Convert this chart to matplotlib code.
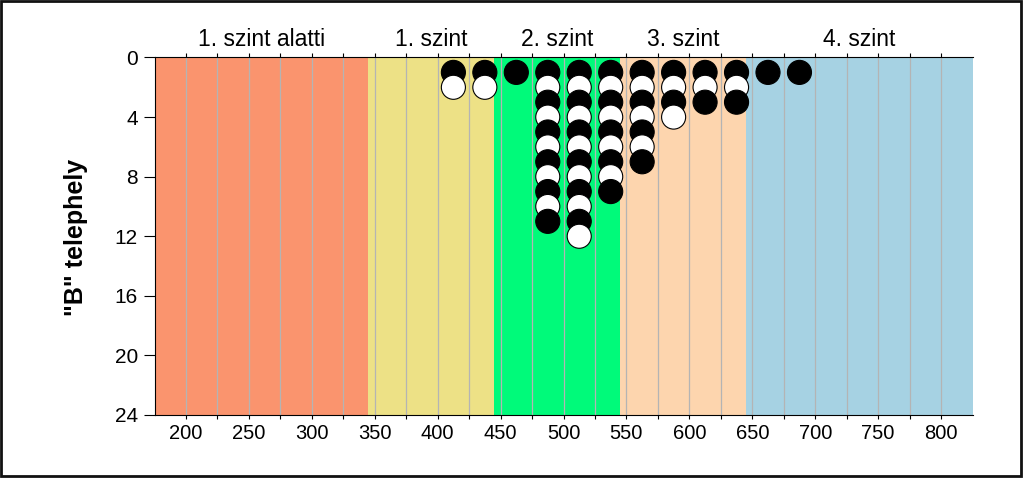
import matplotlib
matplotlib.use("Agg")
import matplotlib.pyplot as plt
from matplotlib.patches import Rectangle

plt.rcParams['font.family'] = ['Liberation Sans', 'DejaVu Sans']

# ---- data ----
band_edges = [175, 345, 445, 545, 645, 825]
band_labels = ["1. szint alatti", "1. szint", "2. szint", "3. szint", "4. szint"]
band_colors = ["#FA946E", "#EDE186", "#00FA7A", "#FDD5AE", "#A6D2E3"]

column_x = [412.5, 437.5, 462.5, 487.5, 512.5, 537.5, 562.5, 587.5, 612.5, 637.5, 662.5, 687.5]
column_pattern = ["BW", "BW", "B", "BWBWBWBWBWB", "BWBWBWBWBWBW", "BWBWBWBWB",
                  "BWBWBWB", "BWBW", "BWB", "BWB", "B", "B"]

x_ticks = [200, 250, 300, 350, 400, 450, 500, 550, 600, 650, 700, 750, 800]
x_minor = [225, 275, 325, 375, 425, 475, 525, 575, 625, 675, 725, 775]
y_ticks = [0, 4, 8, 12, 16, 20, 24]
y_label = '"B" telephely'

# ---- figure ----
fig = plt.figure(figsize=(10.24, 4.78), dpi=100)
ax = fig.add_axes([154.5 / 1024, 1 - 415 / 478, 818 / 1024, (415 - 57.5) / 478])

for i in range(len(band_labels)):
    ax.axvspan(band_edges[i], band_edges[i + 1], color=band_colors[i], lw=0, zorder=0)
    ax.annotate(band_labels[i], xy=((band_edges[i] + band_edges[i + 1]) / 2, 1),
                xycoords=('data', 'axes fraction'), xytext=(0, 8), textcoords='offset points',
                ha='center', va='baseline', fontsize=16.5)

for g in sorted(x_ticks + x_minor):
    ax.axvline(g, color='#B4B4B4', lw=0.9, zorder=1)

xs, ys, fcs = [], [], []
for cx, pat in zip(column_x, column_pattern):
    for r, c in enumerate(pat, start=1):
        xs.append(cx)
        ys.append(r)
        fcs.append('black' if c == 'B' else 'white')
ax.scatter(xs, ys, s=300, c=fcs, edgecolors='black', linewidths=0.8, zorder=3, clip_on=False)

ax.set_xlim(175, 825)
ax.set_ylim(24, 0)
ax.set_xticks(x_ticks)
ax.set_xticks(x_minor, minor=True)
ax.set_yticks(y_ticks)
ax.tick_params(axis='x', which='both', direction='out', length=3, width=0.8,
               top=True, bottom=True, labeltop=False, labelsize=14.5, pad=3.5)
ax.tick_params(axis='y', direction='out', length=8, width=0.8, labelsize=15, pad=4)
for s in ['top', 'bottom', 'left']:
    ax.spines[s].set_linewidth(0.8)
ax.spines['right'].set_visible(False)

fig.text(76 / 1024, 1 - 237 / 478, y_label, rotation=90, ha='center', va='center',
         fontsize=18, fontweight='bold')

fig.patches.append(Rectangle((0.001, 0.004), 0.996, 0.994, transform=fig.transFigure,
                             fill=False, edgecolor='#111111', lw=2))

fig.savefig('out.png', dpi=100)
